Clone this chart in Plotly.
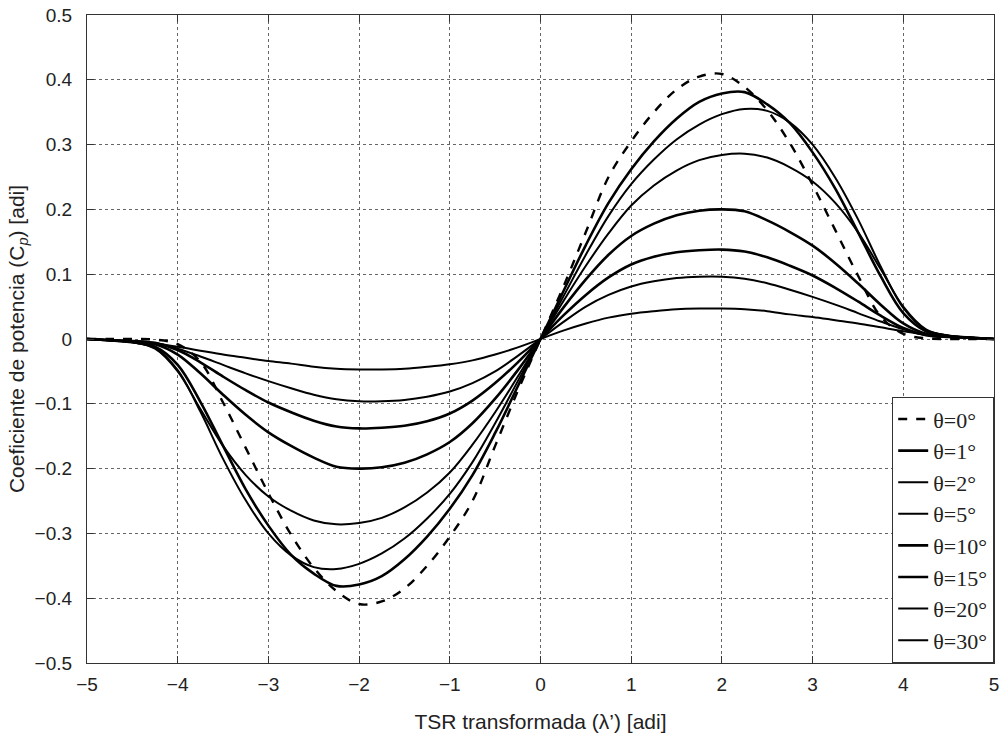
import plotly.graph_objects as go

# Tip-speed ratio (transformed), lambda'
lam = [-5.0, -4.75, -4.5, -4.25, -4.0, -3.75, -3.5, -3.25, -3.0, -2.75, -2.5, -2.25, -2.0,
       -1.75, -1.5, -1.25, -1.0, -0.75, -0.5, -0.25, 0.0,
       0.25, 0.5, 0.75, 1.0, 1.25, 1.5, 1.75, 2.0, 2.25, 2.5, 2.75, 3.0,
       3.25, 3.5, 3.75, 4.0, 4.25, 4.5, 4.75, 5.0]

cp_0 = [0.0, 0.0, 0.0, -0.001, -0.008, -0.035, -0.098, -0.168, -0.238, -0.302, -0.353, -0.389, -0.409,
        -0.405, -0.385, -0.35, -0.305, -0.25, -0.165, -0.08, 0.0,
        0.08, 0.165, 0.25, 0.305, 0.35, 0.385, 0.405, 0.409, 0.389, 0.353, 0.302, 0.238,
        0.168, 0.098, 0.035, 0.008, 0.001, 0.0, 0.0, 0.0]
cp_1 = [0.0, -0.002, -0.005, -0.012, -0.04, -0.097, -0.165, -0.232, -0.288, -0.333, -0.362, -0.381, -0.379,
        -0.366, -0.34, -0.305, -0.262, -0.21, -0.145, -0.073, 0.0,
        0.073, 0.145, 0.21, 0.262, 0.305, 0.34, 0.366, 0.379, 0.381, 0.362, 0.333, 0.288,
        0.232, 0.165, 0.097, 0.04, 0.012, 0.005, 0.002, 0.0]
cp_2 = [0.0, -0.002, -0.005, -0.014, -0.048, -0.112, -0.185, -0.249, -0.300, -0.334, -0.352, -0.355, -0.347,
        -0.331, -0.308, -0.277, -0.239, -0.19, -0.13, -0.065, 0.0,
        0.065, 0.13, 0.19, 0.239, 0.277, 0.308, 0.331, 0.347, 0.355, 0.352, 0.334, 0.300,
        0.249, 0.185, 0.112, 0.048, 0.014, 0.005, 0.002, 0.0]
cp_5 = [0.0, -0.002, -0.005, -0.015, -0.05, -0.108, -0.165, -0.21, -0.243, -0.265, -0.28, -0.286, -0.284,
        -0.276, -0.26, -0.237, -0.206, -0.163, -0.113, -0.058, 0.0,
        0.058, 0.113, 0.163, 0.206, 0.237, 0.26, 0.276, 0.284, 0.286, 0.28, 0.265, 0.243,
        0.21, 0.165, 0.108, 0.05, 0.015, 0.005, 0.002, 0.0]
cp_10 = [0.0, -0.002, -0.004, -0.008, -0.024, -0.053, -0.086, -0.117, -0.144, -0.165, -0.183, -0.197, -0.2,
         -0.198, -0.191, -0.178, -0.159, -0.13, -0.092, -0.048, 0.0,
         0.048, 0.092, 0.13, 0.159, 0.178, 0.191, 0.198, 0.2, 0.197, 0.183, 0.165, 0.144,
         0.117, 0.086, 0.053, 0.024, 0.008, 0.004, 0.002, 0.0]
cp_15 = [0.0, -0.002, -0.003, -0.006, -0.017, -0.036, -0.058, -0.079, -0.098, -0.113, -0.126, -0.135, -0.138,
         -0.137, -0.134, -0.127, -0.115, -0.095, -0.068, -0.036, 0.0,
         0.036, 0.068, 0.095, 0.115, 0.127, 0.134, 0.137, 0.138, 0.135, 0.126, 0.113, 0.098,
         0.079, 0.058, 0.036, 0.017, 0.006, 0.003, 0.002, 0.0]
cp_20 = [0.0, -0.002, -0.003, -0.006, -0.015, -0.027, -0.04, -0.053, -0.065, -0.076, -0.086, -0.093, -0.096,
         -0.096, -0.094, -0.089, -0.081, -0.068, -0.05, -0.026, 0.0,
         0.026, 0.05, 0.068, 0.081, 0.089, 0.094, 0.096, 0.096, 0.093, 0.086, 0.076, 0.065,
         0.053, 0.04, 0.027, 0.015, 0.006, 0.003, 0.002, 0.0]
cp_30 = [0.0, -0.002, -0.004, -0.007, -0.012, -0.018, -0.024, -0.029, -0.034, -0.038, -0.043, -0.046, -0.047,
         -0.047, -0.046, -0.043, -0.039, -0.033, -0.024, -0.013, 0.0,
         0.013, 0.024, 0.033, 0.039, 0.043, 0.046, 0.047, 0.047, 0.046, 0.043, 0.038, 0.034,
         0.029, 0.024, 0.018, 0.012, 0.007, 0.004, 0.002, 0.0]

series_names = ["θ=0°", "θ=1°", "θ=2°", "θ=5°", "θ=10°", "θ=15°", "θ=20°", "θ=30°"]
series_values = [cp_0, cp_1, cp_2, cp_5, cp_10, cp_15, cp_20, cp_30]
series_dash = ["dash", "solid", "solid", "solid", "solid", "solid", "solid", "solid"]
series_width = [2.4, 2.6, 2, 2, 2.6, 2.6, 2, 2]

fig = go.Figure()
for name, vals, dash, w in zip(series_names, series_values, series_dash, series_width):
    fig.add_trace(go.Scatter(
        x=lam, y=vals, mode="lines", name=name,
        line=dict(color="black", width=w, dash=dash, shape="spline", smoothing=1.0),
    ))

axis_common = dict(
    showline=True, linecolor="#333333", linewidth=1.2, mirror="ticks",
    ticks="inside", ticklen=7, tickcolor="#333333",
    showgrid=True, gridcolor="#666666", griddash="dot", gridwidth=1,
    zeroline=False, automargin=False,
    tickfont=dict(family="Liberation Sans, Arial", size=19, color="#222222"),
)

fig.update_layout(
    width=1002, height=740,
    paper_bgcolor="white", plot_bgcolor="white",
    margin=dict(l=87, r=8, t=15, b=77),
    xaxis=dict(range=[-5, 5], tickvals=[-5, -4, -3, -2, -1, 0, 1, 2, 3, 4, 5],
               ticklabelstandoff=4,
               title=dict(text="TSR transformada (λ’) [adi]", standoff=20,
                          font=dict(family="Liberation Sans, Arial", size=21, color="#222222")),
               **axis_common),
    yaxis=dict(range=[-0.5, 0.5], tickvals=[-0.5, -0.4, -0.3, -0.2, -0.1, 0, 0.1, 0.2, 0.3, 0.4, 0.5],
               ticktext=["−0.5", "−0.4", "−0.3", "−0.2", "−0.1", "0", "0.1", "0.2", "0.3", "0.4", "0.5"],
               ticklabelstandoff=10,
               title=dict(text="Coeficiente de potencia (C<sub><i>p</i></sub>) [adi]", standoff=4,
                          font=dict(family="Liberation Sans, Arial", size=21, color="#222222")),
               **axis_common),
    legend=dict(x=1, y=0, xanchor="right", yanchor="bottom",
                bgcolor="white", bordercolor="#333333", borderwidth=1.2,
                font=dict(family="Liberation Serif, Times New Roman", size=22, color="#222222"),
                tracegroupgap=0, itemwidth=30),
    showlegend=True,
)

# remove the browser's default 8px page margin so the figure sits at the window origin
fig.write_html("out.html", config={"displayModeBar": False},
               post_script="document.body.style.margin='0px';")
